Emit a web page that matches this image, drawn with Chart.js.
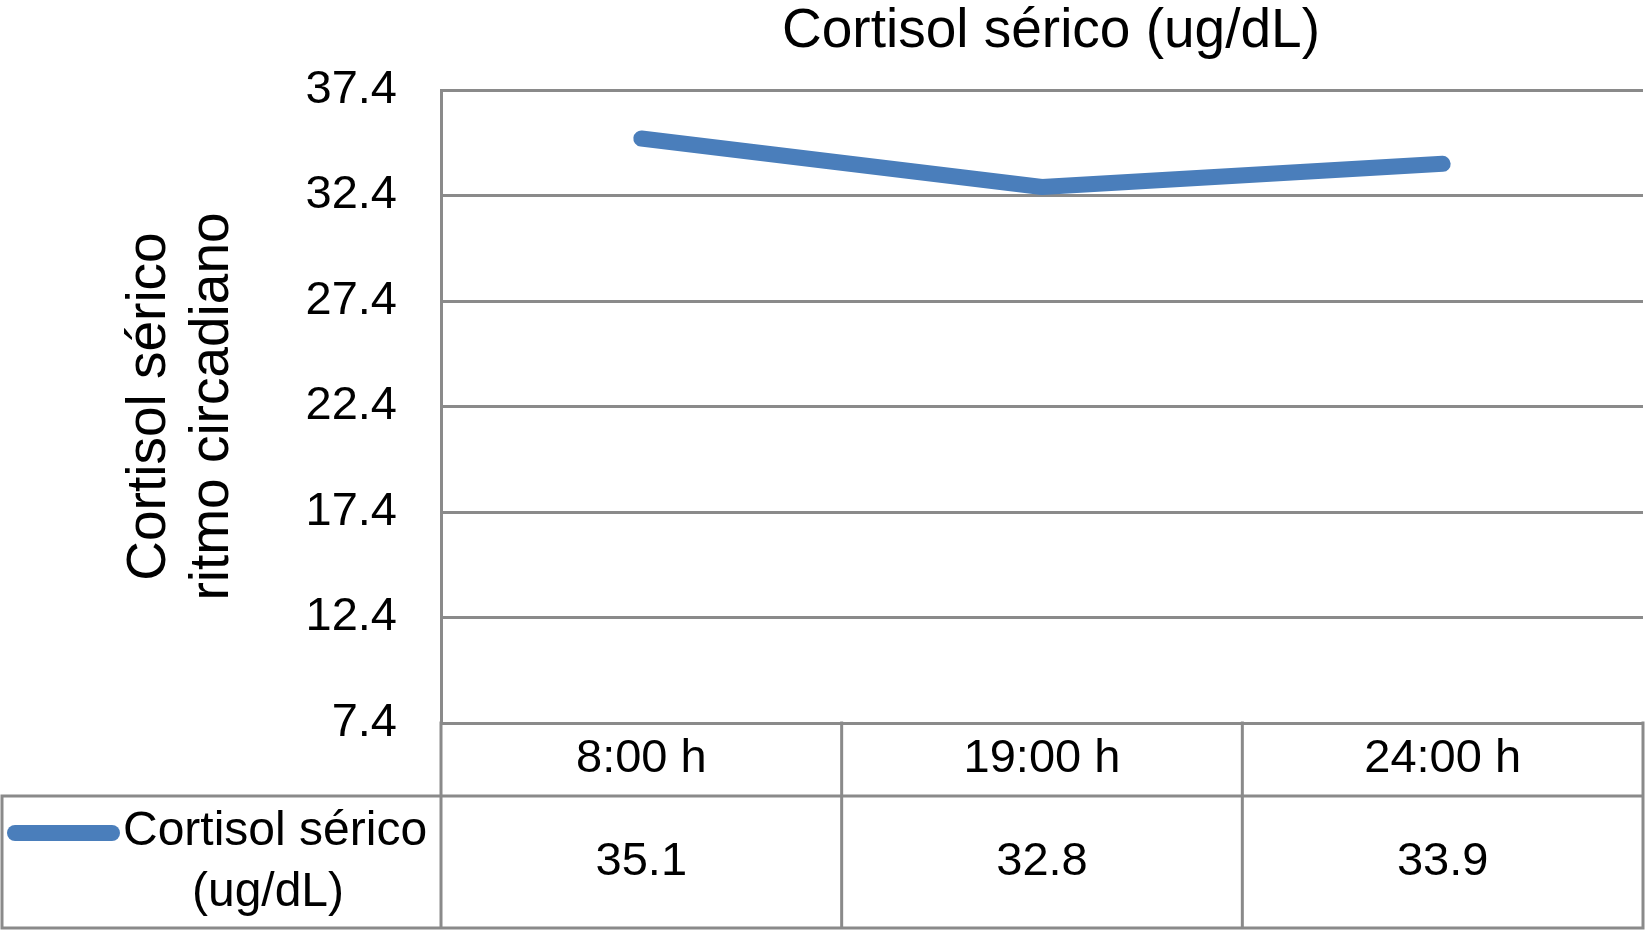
<!DOCTYPE html>
<html>
<head>
<meta charset="utf-8">
<script src="https://cdn.jsdelivr.net/npm/chart.js@4"></script>
<style>
  html, body { margin: 0; padding: 0; background: #fff; }
  #wrap { width: 1645px; height: 932px; }
</style>
</head>
<body>
<div id="wrap"><canvas id="chart"></canvas></div>
<script>
// ─── Data ────────────────────────────────────────────────────────────────────
const categories  = ['8:00 h', '19:00 h', '24:00 h'];
const cortisol    = [35.1, 32.8, 33.9];
const seriesLabel = ['Cortisol sérico', '(ug/dL)'];
const yTicks      = [7.4, 12.4, 17.4, 22.4, 27.4, 32.4, 37.4];
const chartTitle  = 'Cortisol sérico (ug/dL)';
const yTitle      = ['Cortisol sérico', 'ritmo circadiano'];

const GRID  = '#8a8a8a';
const BLUE  = '#4a7ebb';
const FONT  = '"Liberation Sans", Arial, Helvetica, sans-serif';

// ─── Title + data table under the plot ───────────────────────────────────────
const dataTable = {
  id: 'dataTable',
  afterDraw(chart) {
    const { ctx, chartArea: a, scales: { x } } = chart;
    const row1 = a.bottom, row2 = a.bottom + 73, end = 928;

    ctx.save();
    // chart title, centred a little right of the plot centre like the original
    ctx.fillStyle = '#000';
    ctx.font = '55px ' + FONT;
    ctx.textAlign = 'center';
    ctx.textBaseline = 'middle';
    ctx.fillText(chartTitle, 1051, 32);

    ctx.strokeStyle = GRID;
    ctx.lineWidth = 3;
    ctx.lineCap = 'square';
    ctx.beginPath();
    // horizontal rules
    ctx.moveTo(2, row2);  ctx.lineTo(a.right, row2);
    ctx.moveTo(2, end);   ctx.lineTo(a.right, end);
    // outer verticals
    ctx.moveTo(2, row2);  ctx.lineTo(2, end);
    ctx.moveTo(a.left, row1); ctx.lineTo(a.left, end);
    ctx.moveTo(a.right, row1); ctx.lineTo(a.right, end);
    // dividers between categories
    for (let i = 0; i < categories.length - 1; i++) {
      const xd = (x.getPixelForValue(i) + x.getPixelForValue(i + 1)) / 2;
      ctx.moveTo(xd, row1); ctx.lineTo(xd, end);
    }
    ctx.stroke();

    // category labels + values
    ctx.font = '47px ' + FONT;
    categories.forEach((c, i) => {
      const cx = x.getPixelForValue(i);
      ctx.fillText(c, cx, (row1 + row2) / 2);
      ctx.fillText(cortisol[i].toFixed(1), cx, (row2 + end) / 2);
    });

    // legend key
    ctx.strokeStyle = BLUE;
    ctx.lineWidth = 16;
    ctx.lineCap = 'round';
    ctx.beginPath();
    ctx.moveTo(15, 833); ctx.lineTo(112, 833);
    ctx.stroke();
    ctx.textAlign = 'left';
    ctx.font = '48px ' + FONT;
    ctx.fillText(seriesLabel[0], 123, 832);
    ctx.textAlign = 'center';
    ctx.fillText(seriesLabel[1], 268, 893);
    ctx.restore();
  }
};

// ─── Chart ───────────────────────────────────────────────────────────────────
new Chart(document.getElementById('chart'), {
  type: 'line',
  data: {
    labels: categories,
    datasets: [{
      label: seriesLabel.join(' '),
      data: cortisol,
      borderColor: BLUE,
      backgroundColor: BLUE,
      borderWidth: 16,
      borderCapStyle: 'round',
      borderJoinStyle: 'round',
      pointRadius: 0,
      tension: 0,
    }],
  },
  options: {
    responsive: true, maintainAspectRatio: false, animation: false,
    layout: { padding: { left: 0, right: 2, top: 90, bottom: 209 } },
    plugins: {
      legend: { display: false },
      tooltip: { enabled: false },
      title: { display: false },
    },
    scales: {
      x: {
        display: false,
        offset: true,
      },
      y: {
        min: 7.4, max: 37.4,
        afterBuildTicks: s => { s.ticks = yTicks.map(v => ({ value: v })); },
        afterFit: s => { s.width = 441; },
        grid: { color: GRID, lineWidth: 3, drawTicks: false },
        border: { display: true, color: GRID, width: 3 },
        ticks: {
          color: '#000', padding: 44,
          font: { family: FONT, size: 47 },
          callback: v => Number(v).toFixed(1),
        },
        title: {
          display: true, text: yTitle, color: '#000',
          font: { family: FONT, size: 55, lineHeight: 1.15 },
          padding: { top: 118 },
        },
      },
    },
  },
  plugins: [dataTable],
});
</script>
</body>
</html>
